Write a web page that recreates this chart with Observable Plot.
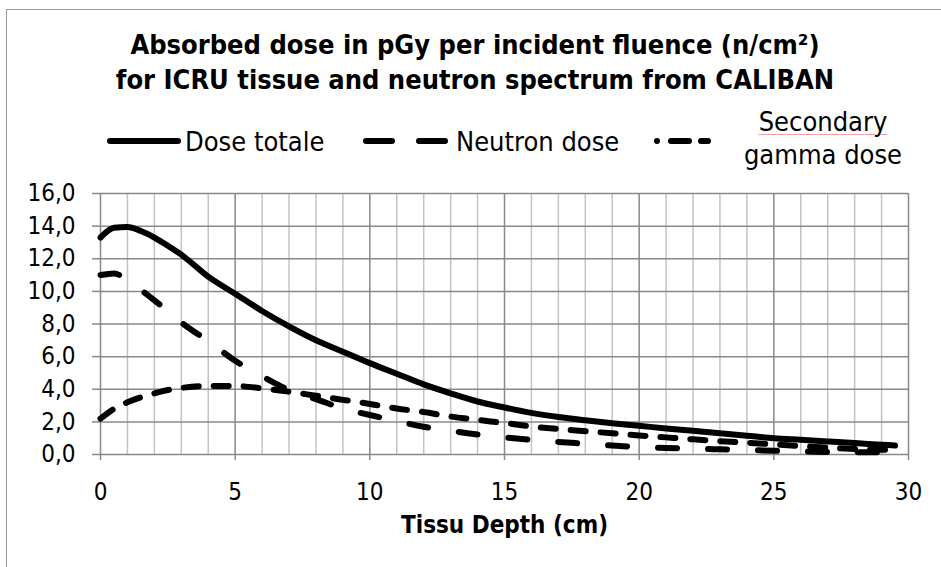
<!DOCTYPE html>
<html>
<head>
<meta charset="utf-8">
<script src="https://cdn.jsdelivr.net/npm/d3@7"></script>
<script src="https://cdn.jsdelivr.net/npm/@observablehq/plot@0.6"></script>
<style>
  html, body { margin: 0; padding: 0; background: #fff; }
  body { width: 941px; height: 567px; overflow: hidden; position: relative;
         font-family: "DejaVu Sans Condensed", "DejaVu Sans", sans-serif; font-stretch: condensed; color: #000; }
  #frame { position: absolute; left: 6px; top: 9px; width: 960px; height: 600px;
           border-left: 1px solid #9a9a9a; border-top: 1px solid #9a9a9a; pointer-events: none; }
  #header { position: relative; width: 941px; height: 175px; }
  #title { position: absolute; left: 0; width: 950px; top: 27px; text-align: center;
           font-weight: bold; font-size: 27px; line-height: 35px; }
  .leg { position: absolute; font-size: 27px; line-height: 33px; white-space: nowrap; }
  .spell { text-decoration: underline; text-decoration-color: rgba(235,120,120,0.7); text-decoration-thickness: 1px; text-underline-offset: 3px; }
  #legsvg { position: absolute; left: 0; top: 0; }
  #chart { position: relative; }
</style>
</head>
<body>
<div id="frame"></div>
<div id="header">
  <div id="title"></div>
  <svg id="legsvg" width="941" height="175"></svg>
  <div class="leg" id="leg0" style="left:185px; top:125px;"></div>
  <div class="leg" id="leg1" style="left:456px; top:125px;"></div>
  <div class="leg" id="leg2" style="left:733px; top:105px; width:180px; text-align:center; white-space:normal;"></div>
</div>
<div id="chart"></div>
<script>
// ---- data ----
const titleLines = ["Absorbed dose in pGy per incident fluence (n/cm²)", "for ICRU tissue and neutron spectrum from CALIBAN"];
const xLabel = "Tissu Depth (cm)";
const seriesNames = ["Dose totale", "Neutron dose", "Secondary gamma dose"];
const depth   = [0, 0.5, 1, 1.5, 2, 2.5, 3, 4, 5, 6, 7, 8, 9, 10, 11, 12, 13, 14, 15, 16, 17, 18, 19, 20, 21, 22, 23, 24, 25, 26, 27, 28, 29, 29.5];
const total   = [13.3, 13.9, 13.95, 13.7, 13.3, 12.8, 12.25, 10.9, 9.85, 8.8, 7.85, 7.0, 6.3, 5.6, 4.95, 4.3, 3.75, 3.25, 2.88, 2.55, 2.3, 2.1, 1.92, 1.76, 1.6, 1.45, 1.3, 1.15, 1.0, 0.9, 0.8, 0.7, 0.6, 0.55];
const neutron = [11.0, 11.1, 10.7, 10.1, 9.45, 8.8, 8.1, 6.95, 5.75, 4.8, 3.95, 3.4, 2.82, 2.42, 2.05, 1.7, 1.45, 1.22, 1.05, 0.9, 0.77, 0.66, 0.55, 0.46, 0.4, 0.36, 0.32, 0.28, 0.23, 0.19, 0.16, 0.14, 0.14, 0.14];
const gamma   = [2.2, 2.8, 3.2, 3.5, 3.75, 3.95, 4.08, 4.2, 4.2, 4.05, 3.85, 3.6, 3.35, 3.1, 2.82, 2.6, 2.33, 2.12, 1.93, 1.72, 1.56, 1.43, 1.3, 1.17, 1.05, 0.93, 0.82, 0.72, 0.62, 0.52, 0.42, 0.34, 0.29, 0.28];
const xTicks = [0, 5, 10, 15, 20, 25, 30];
const yTicks = [0, 2, 4, 6, 8, 10, 12, 14, 16];
const xMinor = d3.range(0, 31, 1);

// ---- styles ----
const FONT = '"DejaVu Sans Condensed", "DejaVu Sans", sans-serif';
const MAJOR = "#898989", MINOR = "#c3c3c3";
const DASH_NEUTRON = "19,31", DASH_GAMMA = "15,15", LW = 6;

// header
document.getElementById("title").innerHTML = titleLines.join("<br>");
document.getElementById("leg0").textContent = seriesNames[0];
document.getElementById("leg1").textContent = seriesNames[1];
document.getElementById("leg2").innerHTML = '<span class="spell">Secondary</span><br>gamma dose';

const leg = d3.select("#legsvg");
leg.append("line").attr("x1", 110).attr("x2", 178).attr("y1", 141).attr("y2", 141)
  .attr("stroke", "black").attr("stroke-width", LW).attr("stroke-linecap", "round");
leg.append("line").attr("x1", 366).attr("x2", 445).attr("y1", 141).attr("y2", 141)
  .attr("stroke", "black").attr("stroke-width", LW).attr("stroke-linecap", "round")
  .attr("stroke-dasharray", "26,27");
leg.append("line").attr("x1", 657).attr("x2", 708).attr("y1", 141).attr("y2", 141)
  .attr("stroke", "black").attr("stroke-width", LW).attr("stroke-linecap", "round")
  .attr("stroke-dasharray", "0,14,18,12,9,100");

const rows = depth.map((d, i) => ({depth: d, total: total[i], neutron: neutron[i], gamma: gamma[i]}));
const fmt = d => d.toFixed(1).replace(".", ",");

const chart = Plot.plot({
  width: 941,
  height: 392,
  marginLeft: 100,
  marginRight: 33,
  marginTop: 18,
  marginBottom: 113,
  style: {fontFamily: FONT, fontSize: "24px", color: "black", background: "transparent"},
  x: {domain: [0, 30]},
  y: {domain: [0, 16]},
  marks: [
    Plot.ruleX(xMinor.filter(d => d % 5 !== 0), {x: d => d, stroke: MINOR, strokeWidth: 1.5}),
    Plot.ruleX(xTicks, {x: d => d, stroke: MAJOR, strokeWidth: 1.5}),
    Plot.ruleY(yTicks, {y: d => d, stroke: MAJOR, strokeWidth: 1.5}),
    Plot.axisY({ticks: yTicks, tickSize: 8, tickPadding: 17, tickFormat: fmt, stroke: MAJOR, fill: "black", strokeWidth: 1.5, label: null, fontSize: 24}),
    Plot.axisX({ticks: xTicks, tickSize: 6, tickPadding: 22, stroke: MAJOR, fill: "black", strokeWidth: 1.5, label: null, fontSize: 24}),
    Plot.line(rows, {x: "depth", y: "total", stroke: "black", strokeWidth: LW, curve: "monotone-x", strokeLinecap: "round", strokeLinejoin: "round"}),
    Plot.line(rows, {x: "depth", y: "neutron", stroke: "black", strokeWidth: LW, curve: "monotone-x", strokeLinecap: "round", strokeDasharray: DASH_NEUTRON}),
    Plot.line(rows, {x: "depth", y: "gamma", stroke: "black", strokeWidth: LW, curve: "monotone-x", strokeLinecap: "round", strokeDasharray: DASH_GAMMA}),
    Plot.text([xLabel], {text: d => d, frameAnchor: "bottom", dy: 71, fontWeight: "bold", fontSize: 24, lineAnchor: "middle"})
  ]
});
document.getElementById("chart").appendChild(chart);
</script>
</body>
</html>
